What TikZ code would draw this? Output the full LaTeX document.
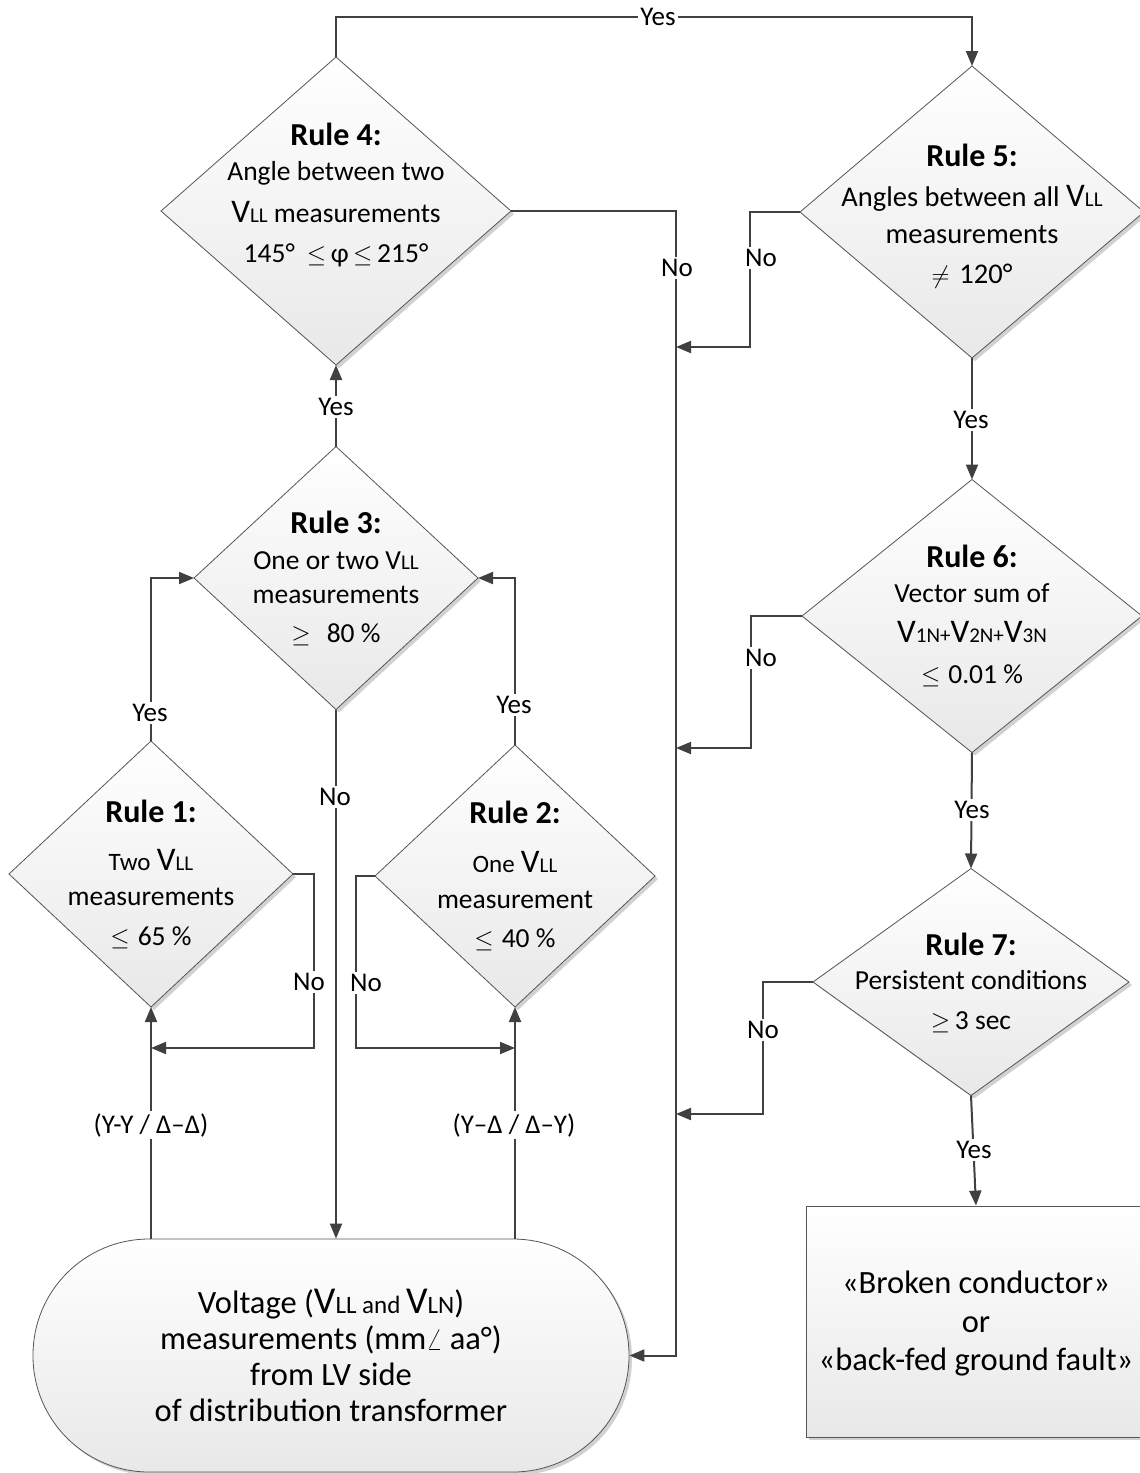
\documentclass[tikz,border=0pt]{standalone}
\usepackage{fontspec}
\setmainfont{Carlito}
\usetikzlibrary{shapes.geometric,arrows.meta,shadows}
\definecolor{ln}{HTML}{404040}
\definecolor{bd}{HTML}{555555}
\newcommand\bigV{{\fontsize{33}{34}\selectfont V}}
\newcommand\sm[1]{{\fontsize{21}{34}\selectfont #1}}
\newcommand\rh[1]{{\fontsize{32}{34}\selectfont\bfseries #1}}
\newcommand\md[1]{{\fontsize{25}{34}\selectfont #1}}
\begin{document}
\begin{tikzpicture}[x=1pt,y=-1pt,
  shad/.style={top color=white, bottom color=black!9,
    drop shadow={shadow xshift=3pt, shadow yshift=-3pt, fill=black!18, opacity=1}},
  dia/.style={diamond, draw=bd, line width=0.8pt, inner sep=0pt, outer sep=0pt, shad},
  conn/.style={draw=ln, line width=2pt},
  arr/.style={conn, -{Triangle[length=15pt,width=12pt]}},
  lab/.style={fill=white, inner sep=2pt, font=\fontsize{27}{30}\selectfont},
  txt/.style={anchor=base, inner sep=0pt, font=\fontsize{27.5}{34}\selectfont},
  bigtxt/.style={anchor=base, inner sep=0pt, font=\fontsize{32.5}{36}\selectfont}]
\useasboundingbox (0,0) rectangle (1140,1473);

% shapes
\node[dia, minimum width=350pt, minimum height=308pt] (r4) at (336,211) {};
\node[dia, minimum width=344pt, minimum height=292pt] (r5) at (972,212) {};
\node[dia, minimum width=340pt, minimum height=273pt] (r6) at (972,616) {};
\node[dia, minimum width=316pt, minimum height=227pt] (r7) at (971,982) {};
\node[dia, minimum width=284pt, minimum height=263pt] (r3) at (336,578) {};
\node[dia, minimum width=284pt, minimum height=266pt] (r1) at (151,874) {};
\node[dia, minimum width=280pt, minimum height=262pt] (r2) at (515,876) {};
\node[draw=bd, line width=0.8pt, rounded corners=116pt, minimum width=596pt,
  minimum height=233pt, inner sep=0pt, shad] (term) at (331,1355.5) {};
\node[rectangle, draw=bd, line width=0.8pt, minimum width=340pt,
  minimum height=231pt, inner sep=0pt, shad] (box) at (976,1321.5) {};

% helper coordinates
\coordinate (bus) at (676,0);
\coordinate (topy) at (0,17);
\coordinate (n1) at (314,1048);
\coordinate (n2) at (356,1048);
\coordinate (n5) at (750,347);
\coordinate (n6) at (751,748);
\coordinate (n7) at (763,1114);

% connectors
\draw[arr] (term.north -| r1.south) -- (r1.south);
\draw[arr] (term.north -| r2.south) -- (r2.south);
\draw[arr] (r1.east) -| (n1) -- (n1 -| r1.south);
\draw[arr] (r2.west) -| (n2) -- (n2 -| r2.south);
\draw[arr] (r1.north) |- (r3.west);
\draw[arr] (r2.north) |- (r3.east);
\draw[arr] (r3.north) -- (r4.south);
\draw[arr] (r3.south) -- (r3.south |- term.north);
\draw[arr] (r4.north) -- (r4.north |- topy) -| (r5.north);
\draw[arr] (r4.east) -| (bus |- term.east) -- (term.east);
\draw[arr] (r5.west) -| (n5) -- (n5 -| bus);
\draw[arr] (r6.west) -| (n6) -- (n6 -| bus);
\draw[arr] (r7.west) -| (n7) -- (n7 -| bus);
\draw[arr] (r5.south) -- (r6.north);
\draw[arr] (r6.south) -- (r7.north);
\draw[arr] (r7.south) -- (box.north);

% labels
\node[lab] (ly4) at (658,17) {Yes};
\node[lab] (lnb) at (677,268) {No};
\node[lab] (ln5) at (761,258) {No};
\node[lab] (ln6) at (761,658) {No};
\node[lab] (ln7) at (763,1030) {No};
\node[lab] (ly5) at (971,420) {Yes};
\node[lab] (ly6) at (972,810) {Yes};
\node[lab] (ly7) at (974,1150) {Yes};
\node[lab] (ly3) at (336,407) {Yes};
\node[lab] (ly1) at (150,713) {Yes};
\node[lab] (ly2) at (514,705) {Yes};
\node[lab] (ln3) at (335,797) {No};
\node[lab] (ln1) at (309,982) {No};
\node[lab] (ln2) at (366,983) {No};
\node[lab] (lyy) at (151,1125) {(Y-Y / Δ–Δ)};
\node[lab] (lyd) at (514,1125) {(Y–Δ / Δ–Y)};

% texts
\node[txt] (t4) at (336,145) {\begin{tabular}[t]{@{}c@{}}\rh{Rule 4:}\\[1pt]
  Angle between two\\[8pt] \bigV\sm{LL} measurements\\[6pt]
  145°\hspace{12pt}$\leq$\,φ\,$\leq$\,215°\end{tabular}};
\node[txt, font=\fontsize{28.5}{34}\selectfont] (t5) at (972,166) {\begin{tabular}[t]{@{}c@{}}\rh{Rule 5:}\\[6pt]
  Angles between all \bigV\sm{LL}\\[3pt] measurements\\[6pt]
  $\neq$\hspace{10pt}120°\end{tabular}};
\node[txt] (t6) at (972,567) {\begin{tabular}[t]{@{}c@{}}\rh{Rule 6:}\\[1pt]
  Vector sum of\\[6pt] \bigV\sm{1N+}\bigV\sm{2N+}\bigV\sm{3N}\\[7pt]
  $\leq$\hspace{8pt}0.01 \%\end{tabular}};
\node[txt] (t7) at (971,955) {\begin{tabular}[t]{@{}c@{}}\rh{Rule 7:}\\
  Persistent conditions\\[6pt] $\geq$\,3 sec\end{tabular}};
\node[txt] (t3) at (336,533) {\begin{tabular}[t]{@{}c@{}}\rh{Rule 3:}\\[2pt]
  One or two V\sm{LL}\\ measurements\\[5pt] $\geq$\hspace{16pt}80 \%\end{tabular}};
\node[txt] (t1) at (151,822) {\begin{tabular}[t]{@{}c@{}}\rh{Rule 1:}\\[14pt]
  \md{Two} \bigV\sm{LL}\\[1pt] measurements\\[6pt] $\leq$\hspace{8pt}65 \%\end{tabular}};
\node[txt] (t2) at (515,823) {\begin{tabular}[t]{@{}c@{}}\rh{Rule 2:}\\[15pt]
  \md{One} \bigV\sm{LL}\\[2pt] measurement\\[5pt] $\leq$\hspace{8pt}40 \%\end{tabular}};
\node[bigtxt] (tt) at (331,1313) {\begin{tabular}[t]{@{}c@{}}Voltage ({\fontsize{38}{36}\selectfont V}{\fontsize{25}{36}\selectfont LL and }{\fontsize{38}{36}\selectfont V}{\fontsize{25}{36}\selectfont LN})\\
  measurements (mm$\angle$~aa°)\\ from LV side\\
  of distribution transformer\end{tabular}};
\node[bigtxt] (tb) at (976,1293) {\begin{tabular}[t]{@{}c@{}}«Broken conductor»\\[3pt]
  or\\[2pt] «back-fed ground fault»\end{tabular}};
\end{tikzpicture}
\end{document}
